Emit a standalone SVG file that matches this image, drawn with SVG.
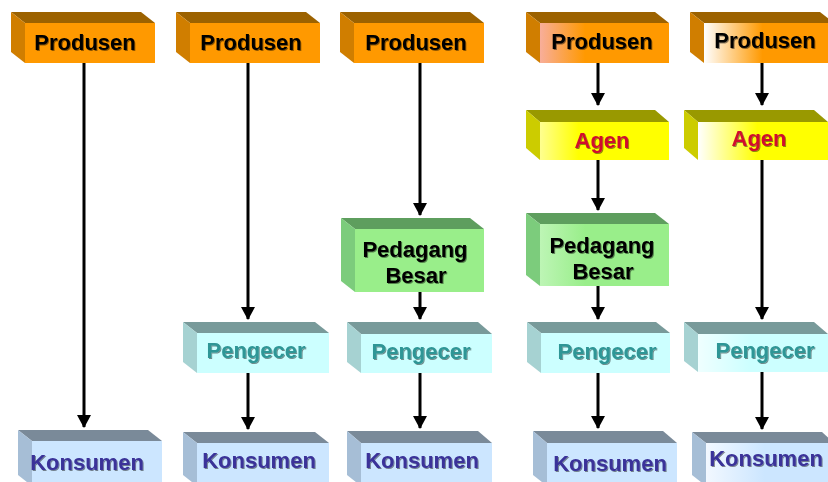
<svg xmlns="http://www.w3.org/2000/svg" width="828" height="482" viewBox="0 0 828 482">
  <style>
    text { font-family: "Liberation Sans", Arial, sans-serif; font-weight: bold; font-size: 22px; text-anchor: middle; filter: url(#txtShadow); }
    .conn { stroke: #000; stroke-width: 3; fill: none; marker-end: url(#arrow); }
    /* Produsen */
    .pro .top { fill: #9C6200; } .pro .side { fill: #D07E00; } .pro .front { fill: #FF9900; } .pro text { fill: #000; }
    /* Agen */
    .agn .top { fill: #999900; } .agn .side { fill: #CCCC00; } .agn .front { fill: #FFFF00; } .agn text { fill: #D0102E; }
    /* Pedagang Besar */
    .pdb .top { fill: #5E9E5E; } .pdb .side { fill: #7CCC7C; } .pdb .front { fill: #99EE8A; } .pdb text { fill: #000; }
    /* Pengecer */
    .png .top { fill: #789A9A; } .png .side { fill: #A6D2D2; } .png .front { fill: #CCFFFF; } .png text { fill: #2E9696; }
    /* Konsumen */
    .kon .top { fill: #7A8A99; } .kon .side { fill: #A6BED6; } .kon .front { fill: #CCE6FF; } .kon text { fill: #3A3399; }
  </style>
  <defs>
    <filter id="txtShadow" x="-10%" y="-30%" width="120%" height="160%">
      <feDropShadow dx="1" dy="1" stdDeviation="0.7" flood-color="#000" flood-opacity="0.45"/>
    </filter>
    <marker id="arrow" markerUnits="userSpaceOnUse" markerWidth="16" markerHeight="14" refX="12" refY="7" orient="auto">
      <path d="M0,0 L13,7 L0,14 Z" fill="#000"/>
    </marker>
    <linearGradient id="gPro4" x1="0" y1="0" x2="1" y2="0">
      <stop offset="0" stop-color="#F8AE9A"/><stop offset="0.35" stop-color="#FF9900"/>
    </linearGradient>
    <linearGradient id="gPro5" x1="0" y1="0" x2="1" y2="0">
      <stop offset="0" stop-color="#FFFFFF"/><stop offset="0.45" stop-color="#FF9900"/>
    </linearGradient>
    <linearGradient id="gAgn4" x1="0" y1="0" x2="1" y2="0">
      <stop offset="0" stop-color="#FFFF90"/><stop offset="0.3" stop-color="#FFFF00"/>
    </linearGradient>
    <linearGradient id="gAgn5" x1="0" y1="0" x2="1" y2="0">
      <stop offset="0" stop-color="#FFFFFF"/><stop offset="0.45" stop-color="#FFFF00"/>
    </linearGradient>
    <linearGradient id="gPdb4" x1="0" y1="0" x2="1" y2="0">
      <stop offset="0" stop-color="#BDF5B5"/><stop offset="0.35" stop-color="#99EE8A"/>
    </linearGradient>
    <linearGradient id="gPng5" x1="0" y1="0" x2="1" y2="0">
      <stop offset="0" stop-color="#EFFFFF"/><stop offset="0.4" stop-color="#CCFFFF"/>
    </linearGradient>
    <linearGradient id="gKon5" x1="0" y1="0" x2="1" y2="0">
      <stop offset="0" stop-color="#F2F8FF"/><stop offset="0.45" stop-color="#CCE6FF"/>
    </linearGradient>
  </defs>

  <rect width="828" height="482" fill="#FFFFFF"/>

  <!-- connectors -->
  <g id="connectors">
    <line class="conn" x1="84" y1="63" x2="84" y2="427"/>
    <line class="conn" x1="248" y1="63" x2="248" y2="319"/>
    <line class="conn" x1="248" y1="373" x2="248" y2="429"/>
    <line class="conn" x1="420" y1="63" x2="420" y2="215"/>
    <line class="conn" x1="420" y1="292" x2="420" y2="319"/>
    <line class="conn" x1="420" y1="373" x2="420" y2="428"/>
    <line class="conn" x1="598" y1="63" x2="598" y2="105"/>
    <line class="conn" x1="598" y1="160" x2="598" y2="210"/>
    <line class="conn" x1="598" y1="286" x2="598" y2="319"/>
    <line class="conn" x1="598" y1="373" x2="598" y2="428"/>
    <line class="conn" x1="762" y1="63" x2="762" y2="105"/>
    <line class="conn" x1="762" y1="160" x2="762" y2="319"/>
    <line class="conn" x1="762" y1="372" x2="762" y2="429"/>
  </g>

  <!-- column 1 -->
  <g id="produsen-1" class="pro">
    <polygon class="top" points="11,12 141,12 155,23 25,23"/>
    <polygon class="side" points="11,12 25,23 25,63 11,52"/>
    <rect class="front" x="25" y="23" width="130" height="40"/>
    <text x="85" y="50">Produsen</text>
  </g>
  <g id="konsumen-1" class="kon">
    <polygon class="top" points="18,430 148,430 162,441 32,441"/>
    <polygon class="side" points="18,430 32,441 32,486 18,475"/>
    <rect class="front" x="32" y="441" width="130" height="45"/>
    <text x="87" y="470">Konsumen</text>
  </g>

  <!-- column 2 -->
  <g id="produsen-2" class="pro">
    <polygon class="top" points="176,12 306,12 320,23 190,23"/>
    <polygon class="side" points="176,12 190,23 190,63 176,52"/>
    <rect class="front" x="190" y="23" width="130" height="40"/>
    <text x="251" y="50">Produsen</text>
  </g>
  <g id="pengecer-2" class="png">
    <polygon class="top" points="183,322 315,322 329,333 197,333"/>
    <polygon class="side" points="183,322 197,333 197,373 183,362"/>
    <rect class="front" x="197" y="333" width="132" height="40"/>
    <text x="256" y="358">Pengecer</text>
  </g>
  <g id="konsumen-2" class="kon">
    <polygon class="top" points="183,432 315,432 329,443 197,443"/>
    <polygon class="side" points="183,432 197,443 197,486 183,475"/>
    <rect class="front" x="197" y="443" width="132" height="43"/>
    <text x="259" y="468">Konsumen</text>
  </g>

  <!-- column 3 -->
  <g id="produsen-3" class="pro">
    <polygon class="top" points="340,12 470,12 484,23 354,23"/>
    <polygon class="side" points="340,12 354,23 354,63 340,52"/>
    <rect class="front" x="354" y="23" width="130" height="40"/>
    <text x="416" y="50">Produsen</text>
  </g>
  <g id="pedagang-besar-3" class="pdb">
    <polygon class="top" points="341,218 470,218 484,229 355,229"/>
    <polygon class="side" points="341,218 355,229 355,292 341,281"/>
    <rect class="front" x="355" y="229" width="129" height="63"/>
    <text x="415" y="257">Pedagang</text>
    <text x="416" y="283">Besar</text>
  </g>
  <g id="pengecer-3" class="png">
    <polygon class="top" points="347,322 478,322 492,334 361,334"/>
    <polygon class="side" points="347,322 361,334 361,373 347,362"/>
    <rect class="front" x="361" y="334" width="131" height="39"/>
    <text x="421" y="359">Pengecer</text>
  </g>
  <g id="konsumen-3" class="kon">
    <polygon class="top" points="347,431 478,431 492,443 361,443"/>
    <polygon class="side" points="347,431 361,443 361,486 347,475"/>
    <rect class="front" x="361" y="443" width="131" height="43"/>
    <text x="422" y="468">Konsumen</text>
  </g>

  <!-- column 4 -->
  <g id="produsen-4" class="pro">
    <polygon class="top" points="526,12 655,12 669,23 540,23"/>
    <polygon class="side" points="526,12 540,23 540,63 526,52"/>
    <rect x="540" y="23" width="129" height="40" fill="url(#gPro4)"/>
    <text x="602" y="49">Produsen</text>
  </g>
  <g id="agen-4" class="agn">
    <polygon class="top" points="526,110 655,110 669,122 540,122"/>
    <polygon class="side" points="526,110 540,122 540,160 526,148"/>
    <rect x="540" y="122" width="129" height="38" fill="url(#gAgn4)"/>
    <text x="602" y="148">Agen</text>
  </g>
  <g id="pedagang-besar-4" class="pdb">
    <polygon class="top" points="526,213 655,213 669,224 540,224"/>
    <polygon class="side" points="526,213 540,224 540,286 526,275"/>
    <rect x="540" y="224" width="129" height="62" fill="url(#gPdb4)"/>
    <text x="602" y="253">Pedagang</text>
    <text x="603" y="279">Besar</text>
  </g>
  <g id="pengecer-4" class="png">
    <polygon class="top" points="527,322 656,322 670,333 541,333"/>
    <polygon class="side" points="527,322 541,333 541,373 527,362"/>
    <rect class="front" x="541" y="333" width="129" height="40"/>
    <text x="607" y="359">Pengecer</text>
  </g>
  <g id="konsumen-4" class="kon">
    <polygon class="top" points="533,431 663,431 677,443 547,443"/>
    <polygon class="side" points="533,431 547,443 547,486 533,475"/>
    <rect class="front" x="547" y="443" width="130" height="43"/>
    <text x="610" y="471">Konsumen</text>
  </g>

  <!-- column 5 -->
  <g id="produsen-5" class="pro">
    <polygon class="top" points="690,12 820,12 834,23 704,23"/>
    <polygon class="side" points="690,12 704,23 704,63 690,52"/>
    <rect x="704" y="23" width="130" height="40" fill="url(#gPro5)"/>
    <text x="765" y="48">Produsen</text>
  </g>
  <g id="agen-5" class="agn">
    <polygon class="top" points="684,110 814,110 828,122 698,122"/>
    <polygon class="side" points="684,110 698,122 698,160 684,148"/>
    <rect x="698" y="122" width="132" height="38" fill="url(#gAgn5)"/>
    <text x="759" y="146">Agen</text>
  </g>
  <g id="pengecer-5" class="png">
    <polygon class="top" points="684,322 814,322 828,334 698,334"/>
    <polygon class="side" points="684,322 698,334 698,372 684,361"/>
    <rect x="698" y="334" width="132" height="38" fill="url(#gPng5)"/>
    <text x="765" y="358">Pengecer</text>
  </g>
  <g id="konsumen-5" class="kon">
    <polygon class="top" points="692,432 822,432 834,443 706,443"/>
    <polygon class="side" points="692,432 706,443 706,486 692,475"/>
    <rect x="706" y="443" width="130" height="43" fill="url(#gKon5)"/>
    <text x="766" y="466">Konsumen</text>
  </g>
</svg>
